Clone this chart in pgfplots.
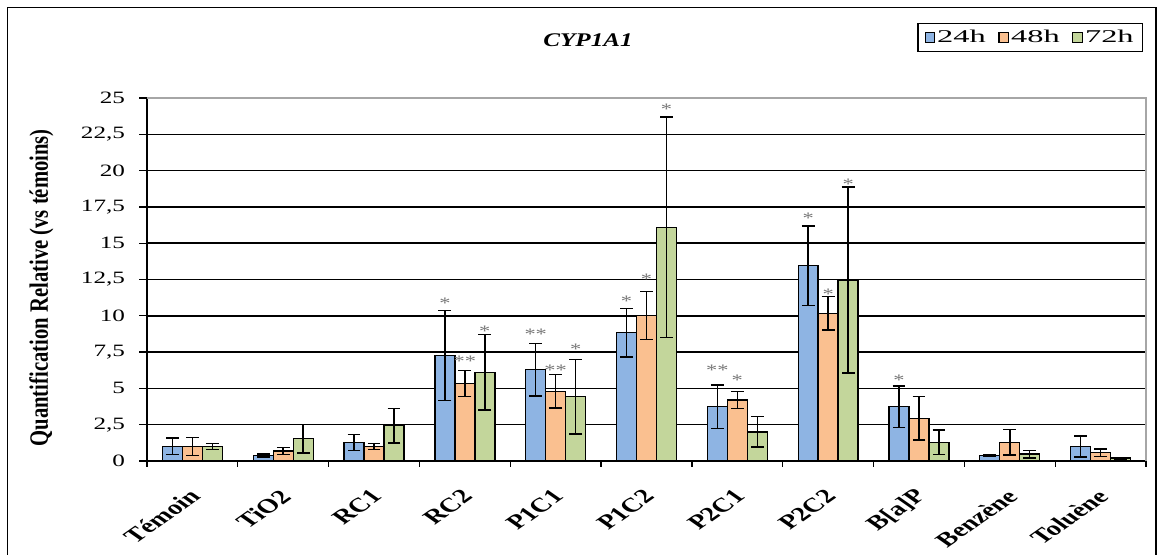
\documentclass[border=0pt]{standalone}
\usepackage{pgfplots}
\usepackage{pgfplotstable}
\pgfplotsset{compat=1.18}
\usepackage{fontspec}
\setmainfont{Liberation Serif}
\newfontfamily\tickfont{Liberation Serif}[FakeStretch=1.45]
\newfontfamily\legfont{Liberation Serif}[FakeStretch=1.8]
\newfontfamily\titlefont{Liberation Serif}[FakeStretch=1.3]
\newfontfamily\starfont{Liberation Serif}[FakeStretch=1.4]
\definecolor{c24}{RGB}{142,180,227}
\definecolor{c48}{RGB}{250,192,144}
\definecolor{c72}{RGB}{195,214,155}
\definecolor{stargray}{RGB}{120,120,120}

% x24/x48/x72: bar centres (category index -0.22, 0, +0.22)
\pgfplotstableread{
x24   y24   e24  x48 y48   e48  x72   y72   e72
-0.22 1.00  0.57 0   1.00  0.63 0.22  1.00  0.20
0.78  0.37  0.10 1   0.69  0.25 1.22  1.53  0.97
1.78  1.28  0.55 2   1.00  0.20 2.22  2.43  1.20
2.78  7.25  3.10 3   5.33  0.90 3.22  6.10  2.60
3.78  6.29  1.80 4   4.80  1.15 4.22  4.43  2.57
4.78  8.84  1.68 5   10.03 1.65 5.22  16.10 7.60
5.78  3.74  1.50 6   4.20  0.57 6.22  2.00  1.05
6.78  13.45 2.73 7   10.17 1.15 7.22  12.47 6.40
7.78  3.74  1.43 8   2.94  1.50 8.22  1.29  0.85
8.78  0.39  0.06 9   1.29  0.87 9.22  0.48  0.26
9.78  1.00  0.72 10  0.57  0.26 10.22 0.20  0.05
}\data

\pgfplotsset{
  sqleg/.style={legend image code/.code={\draw[##1, line width=0.8pt] (0pt,-3.6pt) rectangle (7.2pt,3.6pt);}},
  barstyle/.style={ybar, bar width=0.22, bar shift=0pt, draw=black, line width=1pt, sqleg,
    error bars/y dir=both, error bars/y explicit,
    error bars/error mark=|,
    error bars/error bar style={black, line width=1.1pt},
    error bars/error mark options={black, line width=1.1pt, mark size=4.8pt}},
  starstyle/.style={draw=none, mark=none, forget plot, point meta=explicit symbolic,
    nodes near coords, nodes near coords style={anchor=base, yshift=-5.6pt, inner sep=0pt,
    text=stargray, font=\starfont\fontsize{12}{12}\selectfont}},
}

\begin{document}
\begin{tikzpicture}
\useasboundingbox (0,0) rectangle (872.25pt,416.25pt);
\draw[line width=1pt] (5.6pt,-5pt) -- (5.6pt,410.6pt) -- (867pt,410.6pt) -- (867pt,-5pt);
\begin{axis}[
  at={(110.25pt,70.5pt)}, anchor=south west,
  scale only axis, width=749.25pt, height=272.25pt,
  xmin=-0.5, xmax=10.5, ymin=0, ymax=25,
  clip=false,
  axis x line*=bottom, axis y line*=left,
  axis line style={black, line width=1pt},
  xtick={0,...,10},
  xticklabels={Témoin,TiO2,RC1,RC2,P1C1,P1C2,P2C1,P2C2,{B[a]P},Benzène,Toluène},
  minor xtick={-0.5,0.5,...,10.5},
  major x tick style={draw=none},
  minor x tick style={black, line width=1pt},
  minor tick length=4.5pt,
  ytick={0,2.5,...,25},
  major tick length=6pt,
  y tick style={black, line width=1pt},
  tick align=outside, tick pos=left,
  ymajorgrids, major grid style={black, line width=1.1pt},
  /pgf/number format/assume math mode=true,
  yticklabel style={font=\tickfont\fontsize{13}{13}\selectfont, /pgf/number format/use comma, /pgf/number format/fixed, xshift=-7pt},
  xticklabel style={font=\bfseries\fontsize{15}{15}\selectfont, inner sep=0pt, anchor=east, xshift=2pt, yshift=-18pt, xscale=1.43, rotate=45},
  ylabel={\scalebox{1}[1.28]{Quantification Relative (vs témoins)}},
  every axis y label/.style={at={(axis description cs:-0.1056,0.477)}, rotate=90, anchor=center, font=\bfseries\fontsize{15.5}{15.5}\selectfont},
  title={CYP1A1},
  every axis title shift=0pt,
  title style={at={(axis description cs:0.4414,1.143)}, anchor=base, font=\titlefont\bfseries\itshape\fontsize{14.5}{14.5}\selectfont},
  legend style={at={(axis description cs:0.997,1.2066)}, anchor=north east, legend columns=3, draw=black, line width=1pt,
    font=\legfont\fontsize{13.5}{13.5}\selectfont, inner xsep=5pt, inner ysep=3pt,
    nodes={inner xsep=1.5pt},
    /tikz/every even column/.append style={column sep=8pt}},
]
\addplot[barstyle, fill=c24] table[x=x24, y=y24, y error=e24] {\data};
\addplot[barstyle, fill=c48] table[x=x48, y=y48, y error=e48] {\data};
\addplot[barstyle, fill=c72] table[x=x72, y=y72, y error=e72] {\data};
\legend{24h,48h,72h}
\addplot[starstyle] coordinates {
 (2.78,11.04) [*]
 (3.00,7.00) [**]
 (3.22,9.09) [*]
 (3.78,8.90) [**]
 (4.00,6.38) [**]
 (4.22,7.87) [*]
 (4.78,11.13) [*]
 (5.00,12.69) [*]
 (5.22,24.36) [*]
 (5.78,6.43) [**]
 (6.00,5.72) [*]
 (6.78,16.90) [*]
 (7.00,11.66) [*]
 (7.22,19.24) [*]
 (7.78,5.70) [*]
};
\draw[gray!70, line width=1pt] (rel axis cs:0,1) -- (rel axis cs:1,1) -- (rel axis cs:1,0);
\end{axis}
\end{tikzpicture}
\end{document}
